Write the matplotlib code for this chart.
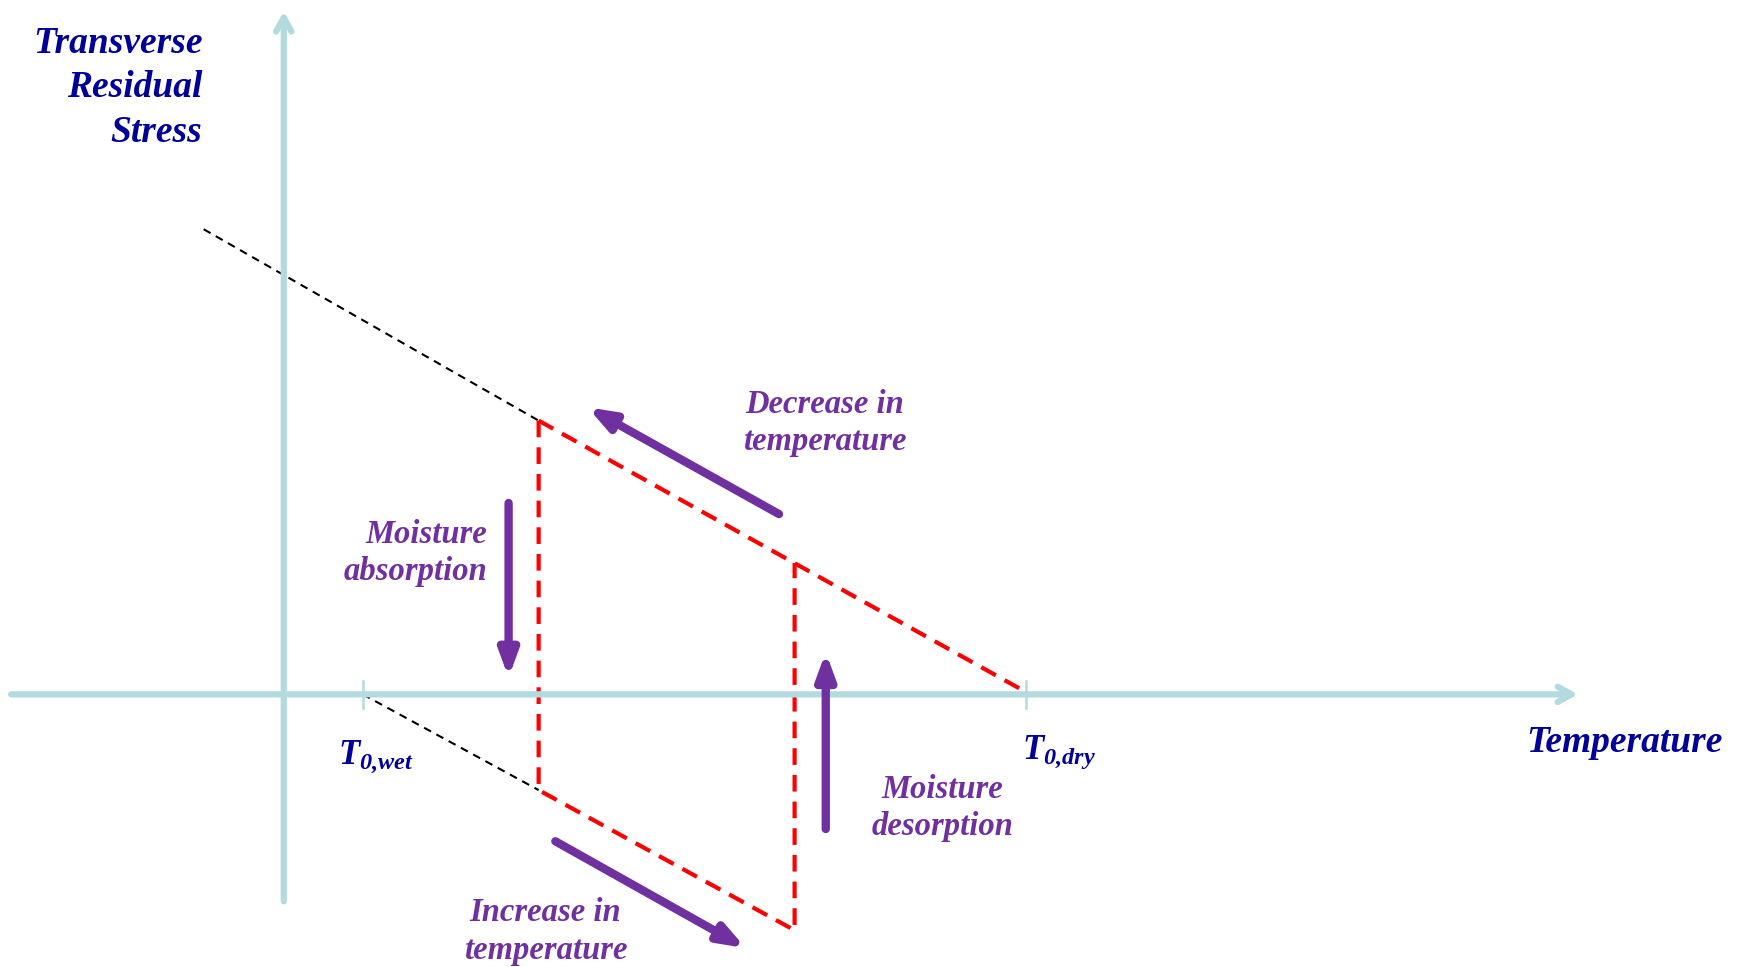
import matplotlib.pyplot as plt

plt.rcParams['font.family'] = 'Liberation Serif'
plt.rcParams['mathtext.fontset'] = 'custom'
plt.rcParams['mathtext.rm'] = 'Liberation Serif:bold:italic'
plt.rcParams['mathtext.it'] = 'Liberation Serif:bold:italic'

AXIS_COLOR = '#b3dbdf'
TEXT_BLUE = '#000099'
PURPLE = '#7030a0'

# temperatures on the axis
t_wet = 0.71
t_dry = 6.67

# dry (upper) branch, black part then red part
dry_black_t = [-0.72, 2.29]
dry_black_s = [4.18, 2.46]
# wet (lower) branch
wet_black_t = [0.71, 2.29]
wet_black_s = [0.0, -0.86]

# red cycle path: down at absorption, along wet line, up at desorption, along dry line
cycle_t = [2.29, 2.29, 4.59, 4.59]
cycle_s = [2.46, -0.86, -2.12, 1.18]
dry_red_t = [2.29, 6.67]
dry_red_s = [2.46, 0.02]

# process arrows (start, end)
arrows = {
    'Decrease in\ntemperature': ((4.45, 1.62), (2.73, 2.58)),
    'Moisture\nabsorption': ((2.02, 1.72), (2.02, 0.15)),
    'Moisture\ndesorption': ((4.87, -1.21), (4.87, 0.38)),
    'Increase in\ntemperature': ((2.44, -1.32), (4.15, -2.28)),
}
labels = {
    'Decrease in\ntemperature': (4.86, 2.44, 'center'),
    'Moisture\nabsorption': (1.83, 1.27, 'right'),
    'Moisture\ndesorption': (5.92, -1.02, 'center'),
    'Increase in\ntemperature': (2.35, -2.13, 'center'),
}


def draw_axes(ax):
    head = '->,head_length=1.0,head_width=0.55'
    ax.annotate('', xy=(11.63, 0), xytext=(-2.45, 0),
                arrowprops=dict(arrowstyle=head, lw=4.5, color=AXIS_COLOR,
                                capstyle='round', joinstyle='round',
                                shrinkA=0, shrinkB=0))
    ax.annotate('', xy=(0, 6.14), xytext=(0, -1.86),
                arrowprops=dict(arrowstyle=head, lw=4.5, color=AXIS_COLOR,
                                capstyle='round', joinstyle='round',
                                shrinkA=0, shrinkB=0))
    for t in (t_wet, t_dry):
        ax.plot([t, t], [-0.12, 0.12], color=AXIS_COLOR, lw=1.8)


def main():
    fig = plt.figure(figsize=(17.45, 9.67), dpi=100)
    ax = fig.add_axes([0, 0, 1, 1])
    ax.set_xlim(-2.55, 13.13)
    ax.set_ylim(-2.45, 6.24)
    ax.axis('off')

    draw_axes(ax)

    ax.plot(dry_black_t, dry_black_s, color='black', lw=1.5, dashes=(3.8, 2.9))
    ax.plot(wet_black_t, wet_black_s, color='black', lw=1.5, dashes=(3.8, 2.9))
    ax.plot(cycle_t, cycle_s, color='red', lw=3, dashes=(4, 2.4))
    ax.plot(dry_red_t, dry_red_s, color='red', lw=3, dashes=(4, 2.4))

    for name, (start, end) in arrows.items():
        ax.annotate('', xy=end, xytext=start,
                    arrowprops=dict(arrowstyle='-|>,head_length=1.5,head_width=0.55',
                                    lw=6, color=PURPLE, shrinkA=0, shrinkB=0))
        x, y, ha = labels[name]
        ax.text(x, y, name, color=PURPLE, fontsize=23.5, fontweight='bold',
                fontstyle='italic', ha=ha, va='center', linespacing=1.26)

    ax.text(-0.73, 5.45, 'Transverse\nResidual\nStress', color=TEXT_BLUE,
            fontsize=27, fontweight='bold', fontstyle='italic',
            ha='right', va='center', linespacing=1.36)
    ax.text(12.93, -0.43, 'Temperature', color=TEXT_BLUE, fontsize=27,
            fontweight='bold', fontstyle='italic', ha='right', va='center')
    ax.text(0.49, -0.56, r'$T_{0{,}wet}$', color=TEXT_BLUE, fontsize=25,
            ha='left', va='center')
    ax.text(6.63, -0.52, r'$T_{0{,}dry}$', color=TEXT_BLUE, fontsize=25,
            ha='left', va='center')

    fig.savefig('out.png', dpi=100)
    plt.close(fig)


if __name__ == '__main__':
    main()
